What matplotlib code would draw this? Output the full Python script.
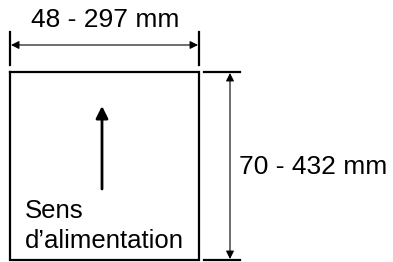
import matplotlib.pyplot as plt

# textes du schema
largeur_label = "48 - 297 mm"
hauteur_label = "70 - 432 mm"
sens_label = ["Sens", "d\u2019alimentation"]

plt.rcParams['font.family'] = ['Liberation Sans', 'DejaVu Sans']

fig = plt.figure(figsize=(3.93, 2.62), dpi=100)
ax = fig.add_axes([0, 0, 1, 1])
ax.set_xlim(0, 393)
ax.set_ylim(262, 0)
ax.axis('off')

# feuille
x0, x1, y0, y1 = 10, 199, 72, 260
ax.plot([x0, x1, x1, x0, x0], [y0, y0, y1, y1, y0], color='black', lw=1.6,
        solid_joinstyle='miter')

# cote largeur
ax.plot([x0, x0], [32, 65], color='black', lw=1.6)
ax.plot([x1, x1], [32, 65], color='black', lw=1.6)
ax.annotate('', xy=(x1 - 1, 45), xytext=(x0 + 1, 45),
            arrowprops=dict(arrowstyle='<|-|>', color='black', lw=0.8,
                            mutation_scale=12, shrinkA=0, shrinkB=0))
ax.text((x0 + x1) / 2 + 1, 20, largeur_label, fontsize=19, ha='center', va='center')

# cote hauteur
ax.plot([204, 240], [y0, y0], color='black', lw=1.6)
ax.plot([204, 240], [y1, y1], color='black', lw=1.6)
ax.annotate('', xy=(230, y0 + 1), xytext=(230, y1 - 1),
            arrowprops=dict(arrowstyle='<|-|>', color='black', lw=0.8,
                            mutation_scale=12, shrinkA=0, shrinkB=0))
ax.text(239, 167, hauteur_label, fontsize=19, ha='left', va='center')

# sens d'alimentation
ax.annotate('', xy=(102, 106), xytext=(102, 189),
            arrowprops=dict(arrowstyle='-|>', color='black', lw=2,
                            mutation_scale=18, shrinkA=0, shrinkB=0))
ax.text(25, 218, sens_label[0], fontsize=18.5, ha='left', va='baseline')
ax.text(25, 248, sens_label[1], fontsize=18.5, ha='left', va='baseline')

fig.savefig('out.png', dpi=100)
